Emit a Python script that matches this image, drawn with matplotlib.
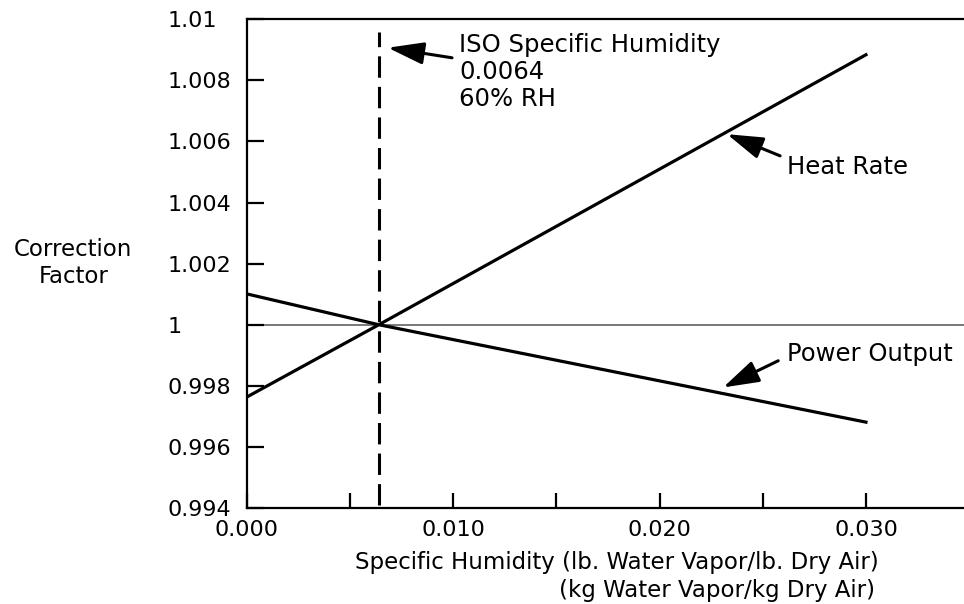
import numpy as np
import matplotlib
matplotlib.use("Agg")
import matplotlib.pyplot as plt

# data
humidity = [0.000, 0.0064, 0.030]
heat_rate = [0.99763, 1.0000, 1.00884]
power_output = [1.00101, 1.0000, 0.99681]
iso_humidity = 0.0064

yticks = [1.01, 1.008, 1.006, 1.004, 1.002, 1.0, 0.998, 0.996, 0.994]
ytick_labels = ["1.01", "1.008", "1.006", "1.004", "1.002", "1", "0.998", "0.996", "0.994"]
xticks = [0.000, 0.010, 0.020, 0.030]
xtick_labels = ["0.000", "0.010", "0.020", "0.030"]
xminor = [0.005, 0.015, 0.025]

plt.rcParams['font.family'] = ['DejaVu Sans']

fig = plt.figure(figsize=(9.64, 6.04), dpi=100)
ax = fig.add_axes([0.2559, 0.159, 0.7441, 0.809])

ax.set_xlim(0, 0.03475)
ax.set_ylim(0.994, 1.01)

# reference line at 1.0
ax.axhline(1.0, color='#555555', lw=1.1, zorder=1)

# dashed ISO line
ax.plot([iso_humidity, iso_humidity], [0.9941, 1.0096], color='black', lw=2.2,
        dashes=(7, 3), zorder=3)

ax.plot(humidity, heat_rate, color='black', lw=2.3, zorder=4)
ax.plot(humidity, power_output, color='black', lw=2.3, zorder=4)

# spines
for s in ['top', 'bottom', 'left']:
    ax.spines[s].set_linewidth(1.6)
ax.spines['right'].set_visible(False)

ax.set_yticks(yticks)
ax.set_yticklabels(ytick_labels, fontsize=16)
for lbl in ax.get_yticklabels():
    lbl.set_horizontalalignment('left')
ax.tick_params(axis='y', direction='in', length=12, width=1.6, pad=57)

ax.set_xticks(xticks)
ax.set_xticklabels(xtick_labels, fontsize=16)
ax.set_xticks(xminor, minor=True)
ax.tick_params(axis='x', which='both', direction='in', length=11, width=1.6, pad=9)

# axis labels
fig.text(0.076, 1 - 263 / 604, "Correction\nFactor", ha='center', va='center',
         fontsize=16.5, linespacing=1.2)
fig.text(879 / 964, 1 - 562 / 604, "Specific Humidity (lb. Water Vapor/lb. Dry Air)",
         ha='right', va='center', fontsize=16.5)
fig.text(875 / 964, 1 - 590 / 604, "(kg Water Vapor/kg Dry Air)",
         ha='right', va='center', fontsize=16.5)

arrow = dict(arrowstyle='-|>,head_length=1.1,head_width=0.34', color='black',
             lw=2.2, mutation_scale=20, shrinkA=0, shrinkB=0)

# ISO annotation
ax.text(0.01029, 1.00955, "ISO Specific Humidity\n0.0064\n60% RH", ha='left', va='top',
        fontsize=17.5, linespacing=1.15)
ax.annotate('', xy=(iso_humidity + 0.00044, 1.00907), xytext=(0.00995, 1.00874),
            arrowprops=arrow)

# Heat Rate annotation
hr_tip = 0.02327
ax.text(0.02618, 1.00517, "Heat Rate", ha='left', va='center', fontsize=17.5)
ax.annotate('', xy=(hr_tip, np.interp(hr_tip, humidity, heat_rate) - 0.00008),
            xytext=(0.02584, 1.00553), arrowprops=arrow)

# Power Output annotation
po_tip = 0.02308
ax.text(0.02618, 0.99905, "Power Output", ha='left', va='center', fontsize=17.5)
ax.annotate('', xy=(po_tip, np.interp(po_tip, humidity, power_output) + 0.00020),
            xytext=(0.02575, 0.99882), arrowprops=arrow)

fig.savefig("out.png", dpi=100)
